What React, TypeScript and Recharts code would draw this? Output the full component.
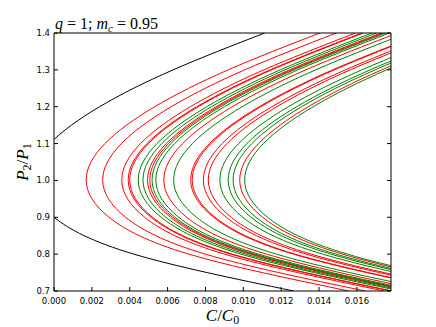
import { LineChart, Line, XAxis, YAxis } from "recharts";

// P2/P1 levels shared by every curve (top to bottom)
const pLevels = [1.4, 1.3, 1.2, 1.1, 1.0, 0.9, 0.8, 0.7];

const xTicks = [0, 0.002, 0.004, 0.006, 0.008, 0.01, 0.012, 0.014, 0.016];
const yTicks = [0.7, 0.8, 0.9, 1.0, 1.1, 1.2, 1.3, 1.4];

// C/C0 read at each level of pLevels
const blackCurve = [0.01113, 0.00629, 0.00241, -0.00022, -0.00121, 0.0, 0.00422, 0.01266];

const redCurves = [
  [0.01404, 0.0092, 0.00532, 0.00269, 0.0017, 0.00291, 0.00713, 0.01557],
  [0.01491, 0.01007, 0.00619, 0.00356, 0.00257, 0.00378, 0.008, 0.01644],
  [0.01592, 0.01108, 0.0072, 0.00457, 0.00358, 0.00479, 0.00901, 0.01745],
  [0.01626, 0.01142, 0.00754, 0.00491, 0.00392, 0.00513, 0.00935, 0.01779],
  [0.01634, 0.0115, 0.00762, 0.00499, 0.004, 0.00521, 0.00943, 0.01787],
  [0.01728, 0.01244, 0.00856, 0.00593, 0.00494, 0.00615, 0.01037, 0.01881],
  [0.0174, 0.01256, 0.00868, 0.00605, 0.00506, 0.00627, 0.01049, 0.01893],
  [0.01814, 0.0133, 0.00942, 0.00679, 0.0058, 0.00701, 0.01123, 0.01967],
  [0.01956, 0.01472, 0.01084, 0.00821, 0.00722, 0.00843, 0.01265, 0.02109],
  [0.01964, 0.0148, 0.01092, 0.00829, 0.0073, 0.00851, 0.01273, 0.02117],
  [0.02023, 0.01539, 0.01151, 0.00888, 0.00789, 0.0091, 0.01332, 0.02176],
  [0.02049, 0.01565, 0.01177, 0.00914, 0.00815, 0.00936, 0.01358, 0.02202],
  [0.02215, 0.01731, 0.01343, 0.0108, 0.00981, 0.01102, 0.01524, 0.02368],
];

const greenCurves = [
  [0.01679, 0.01195, 0.00807, 0.00544, 0.00445, 0.00566, 0.00988, 0.01832],
  [0.01704, 0.0122, 0.00832, 0.00569, 0.0047, 0.00591, 0.01013, 0.01857],
  [0.01752, 0.01268, 0.0088, 0.00617, 0.00518, 0.00639, 0.01061, 0.01905],
  [0.01772, 0.01288, 0.009, 0.00637, 0.00538, 0.00659, 0.01081, 0.01925],
  [0.01866, 0.01382, 0.00994, 0.00731, 0.00632, 0.00753, 0.01175, 0.02019],
  [0.0211, 0.01626, 0.01238, 0.00975, 0.00876, 0.00997, 0.01419, 0.02263],
  [0.02154, 0.0167, 0.01282, 0.01019, 0.0092, 0.01041, 0.01463, 0.02307],
  [0.0218, 0.01696, 0.01308, 0.01045, 0.00946, 0.01067, 0.01489, 0.02333],
  [0.02241, 0.01757, 0.01369, 0.01106, 0.01007, 0.01128, 0.0155, 0.02394],
];

const toPoints = (vals: number[]) => vals.map((c, i) => ({ c, p: pLevels[i] }));

const mathFont = "'Liberation Serif', 'DejaVu Serif', serif";
const tickFont = { fontFamily: "'DejaVu Sans', sans-serif", fontSize: 8.5, fill: "#000" };

const TitleLabel = (props: any) => {
  const { x, y } = props.viewBox;
  return (
    <text x={x + 1} y={y + 1} fontFamily={mathFont} fontSize={16} fill="#000">
      <tspan fontStyle="italic">q</tspan>
      <tspan> = 1; </tspan>
      <tspan fontStyle="italic">m</tspan>
      <tspan fontStyle="italic" fontSize={11} dy={3}>c</tspan>
      <tspan dy={-3}> = 0.95</tspan>
    </text>
  );
};

const XLabel = (props: any) => {
  const { x, y, width } = props.viewBox;
  return (
    <text x={x + width / 2} y={y + 30} textAnchor="middle" fontFamily={mathFont} fontSize={17} fill="#000">
      <tspan fontStyle="italic">C</tspan>
      <tspan>/</tspan>
      <tspan fontStyle="italic">C</tspan>
      <tspan fontSize={12} dy={3}>0</tspan>
    </text>
  );
};

const YLabel = (props: any) => {
  const { x, y, height } = props.viewBox;
  const cx = x + 14;
  const cy = y + height / 2;
  return (
    <text
      x={cx}
      y={cy}
      textAnchor="middle"
      transform={`rotate(-90 ${cx} ${cy})`}
      fontFamily={mathFont}
      fontSize={17}
      fill="#000"
    >
      <tspan fontStyle="italic">P</tspan>
      <tspan fontSize={12} dy={3}>2</tspan>
      <tspan dy={-3}>/</tspan>
      <tspan fontStyle="italic">P</tspan>
      <tspan fontSize={12} dy={3}>1</tspan>
    </text>
  );
};

export default function App() {
  return (
    <LineChart width={420} height={319} margin={{ top: 20, right: 32, bottom: 6, left: 6 }}>
      <XAxis
        xAxisId={0}
        dataKey="c"
        type="number"
        domain={[0, 0.0178]}
        allowDataOverflow
        ticks={xTicks}
        tickFormatter={(v: number) => v.toFixed(3)}
        tick={tickFont}
        tickSize={-4}
        tickMargin={11}
        height={30}
        axisLine={{ stroke: "#000" }}
        tickLine={{ stroke: "#000" }}
        label={{ content: XLabel }}
      />
      <XAxis
        xAxisId="top"
        orientation="top"
        type="number"
        domain={[0, 0.0178]}
        allowDataOverflow
        ticks={xTicks}
        tickFormatter={() => ""}
        tickSize={-4}
        height={5}
        axisLine={{ stroke: "#000" }}
        tickLine={{ stroke: "#000" }}
        label={{ content: TitleLabel }}
      />
      <YAxis
        yAxisId={0}
        dataKey="p"
        type="number"
        domain={[0.7, 1.4]}
        allowDataOverflow
        ticks={yTicks}
        tickFormatter={(v: number) => v.toFixed(1)}
        tick={tickFont}
        tickSize={-4}
        tickMargin={8}
        width={40}
        axisLine={{ stroke: "#000" }}
        tickLine={{ stroke: "#000" }}
        label={{ content: YLabel }}
      />
      <YAxis
        yAxisId="right"
        orientation="right"
        type="number"
        domain={[0.7, 1.4]}
        allowDataOverflow
        ticks={yTicks}
        tickFormatter={() => ""}
        tickSize={-4}
        width={5}
        axisLine={{ stroke: "#000" }}
        tickLine={{ stroke: "#000" }}
      />
      <Line
        data={toPoints(blackCurve)}
        dataKey="p"
        type="natural"
        stroke="#000"
        strokeWidth={1}
        dot={false}
        isAnimationActive={false}
      />
      {redCurves.map((vals, i) => (
        <Line
          key={`r${i}`}
          data={toPoints(vals)}
          dataKey="p"
          type="natural"
          stroke="#ff0000"
          strokeWidth={1}
          dot={false}
          isAnimationActive={false}
        />
      ))}
      {greenCurves.map((vals, i) => (
        <Line
          key={`g${i}`}
          data={toPoints(vals)}
          dataKey="p"
          type="natural"
          stroke="#008000"
          strokeWidth={1}
          dot={false}
          isAnimationActive={false}
        />
      ))}
    </LineChart>
  );
}
